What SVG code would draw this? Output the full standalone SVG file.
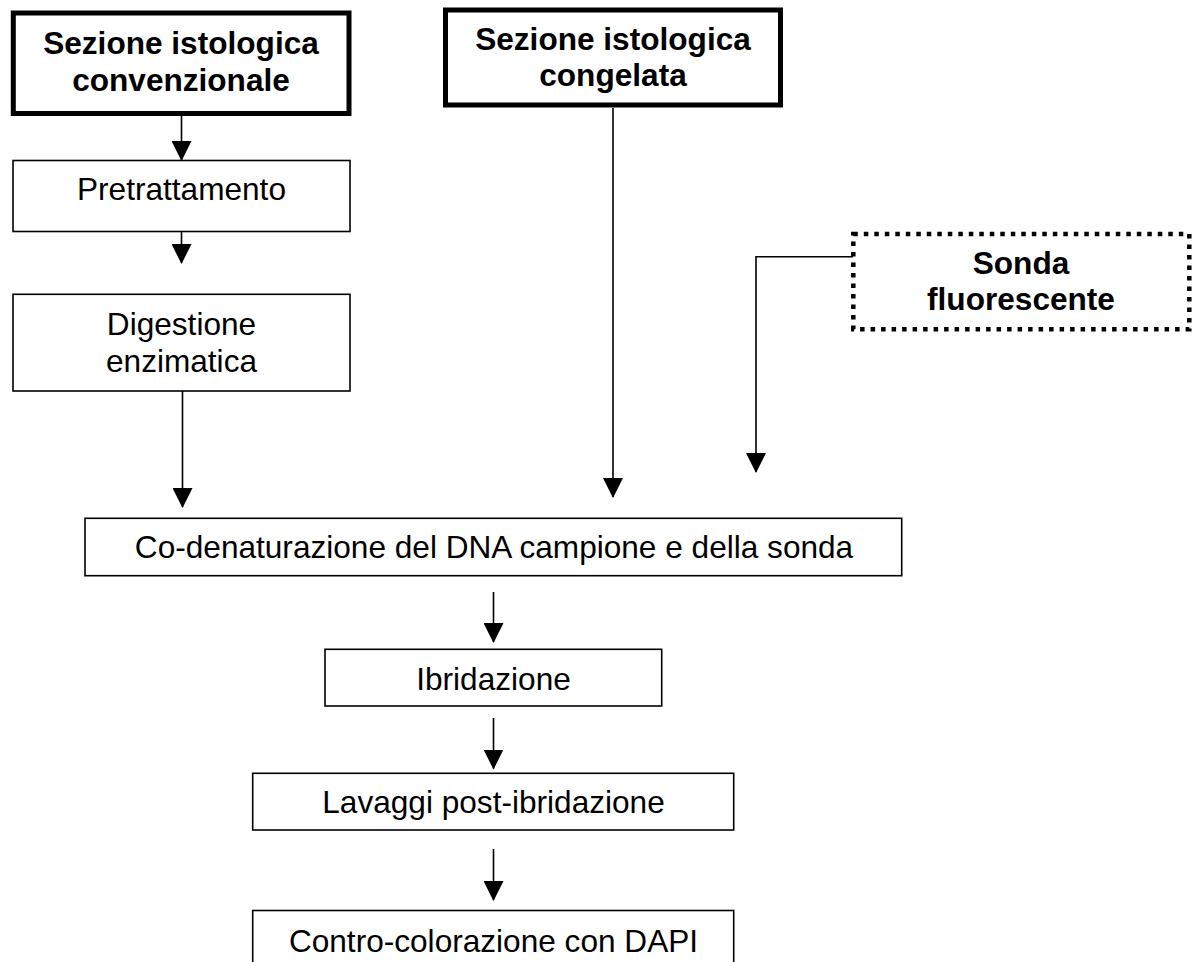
<svg xmlns="http://www.w3.org/2000/svg" width="1198" height="962" viewBox="0 0 1198 962">
<style>
  .t { font-family: "Liberation Sans", Arial, sans-serif; font-size: 31.6px; fill: #000; text-anchor: middle; }
  .b { font-weight: bold; }
  .box { fill: #fff; stroke: #000; stroke-width: 1.6; }
  .thick { fill: #fff; stroke: #000; stroke-width: 5; }
  .dot { fill: #fff; stroke: #000; stroke-width: 4.5; stroke-dasharray: 4.5 6; }
  .c { fill: none; stroke: #000; stroke-width: 1.6; }
</style>
<defs>
  <marker id="ah" viewBox="0 0 20 20" refX="19" refY="10" markerWidth="20" markerHeight="20" markerUnits="userSpaceOnUse" orient="auto">
    <path d="M0,0 L20,10 L0,20 z" fill="#000"/>
  </marker>
</defs>
<rect width="1198" height="962" fill="#fff"/>

<g id="connectors">
  <line class="c" x1="181.5" y1="116" x2="181.5" y2="160" marker-end="url(#ah)"/>
  <line class="c" x1="181.5" y1="232" x2="181.5" y2="263" marker-end="url(#ah)"/>
  <line class="c" x1="182.5" y1="391" x2="182.5" y2="507" marker-end="url(#ah)"/>
  <line class="c" x1="613" y1="108" x2="613" y2="497" marker-end="url(#ah)"/>
  <path class="c" d="M853,256.7 L756,256.7 L756,472" marker-end="url(#ah)"/>
  <line class="c" x1="493.5" y1="592" x2="493.5" y2="642" marker-end="url(#ah)"/>
  <line class="c" x1="493.5" y1="718" x2="493.5" y2="768.5" marker-end="url(#ah)"/>
  <line class="c" x1="493.5" y1="849" x2="493.5" y2="900" marker-end="url(#ah)"/>
</g>

<g id="n-convenzionale">
  <rect class="thick" x="13.3" y="13" width="335.7" height="100.5"/>
  <text class="t b" x="181" y="53.5">Sezione istologica</text>
  <text class="t b" x="181" y="90.5">convenzionale</text>
</g>

<g id="n-congelata">
  <rect class="thick" x="445.5" y="10" width="335" height="95"/>
  <text class="t b" x="613" y="50">Sezione istologica</text>
  <text class="t b" x="613" y="86">congelata</text>
</g>

<g id="n-pretrattamento">
  <rect class="box" x="13" y="160.5" width="337" height="71"/>
  <text class="t" x="181.5" y="200">Pretrattamento</text>
</g>

<g id="n-digestione">
  <rect class="box" x="13" y="294.3" width="337" height="96.7"/>
  <text class="t" x="181.5" y="335">Digestione</text>
  <text class="t" x="181.5" y="371.7">enzimatica</text>
</g>

<g id="n-sonda">
  <rect class="dot" x="853.3" y="234" width="336" height="95.3"/>
  <text class="t b" x="1021" y="274">Sonda</text>
  <text class="t b" x="1021" y="310">fluorescente</text>
</g>

<g id="n-codenaturazione">
  <rect class="box" x="85" y="518.3" width="816.7" height="57.4"/>
  <text class="t" x="494" y="558">Co-denaturazione del DNA campione e della sonda</text>
</g>

<g id="n-ibridazione">
  <rect class="box" x="325" y="649.3" width="336.7" height="56.7"/>
  <text class="t" x="493.5" y="690">Ibridazione</text>
</g>

<g id="n-lavaggi">
  <rect class="box" x="252.7" y="773.3" width="481" height="56.7"/>
  <text class="t" x="493.5" y="813.3">Lavaggi post-ibridazione</text>
</g>

<g id="n-contro">
  <rect class="box" x="252.7" y="910.5" width="481" height="70"/>
  <text class="t" x="493.5" y="951.7">Contro-colorazione con DAPI</text>
</g>
</svg>
